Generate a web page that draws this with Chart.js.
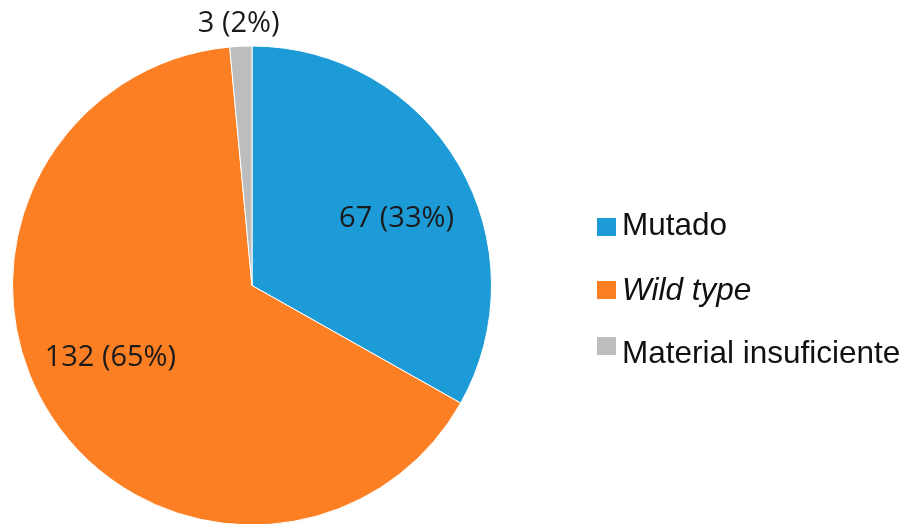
<!DOCTYPE html>
<html>
<head>
<meta charset="utf-8">
<script src="https://cdn.jsdelivr.net/npm/chart.js@4"></script>
<style>
  html, body { margin: 0; padding: 0; background: #fff; overflow: hidden; }
  #wrap { position: relative; width: 904px; height: 526px; }
</style>
</head>
<body>
<div id="wrap"><canvas id="myChart"></canvas></div>
<script>
var categories = ["Mutado", "Wild type", "Material insuficiente"];
var counts = [67, 132, 3];
var percents = [33, 65, 2];
var sliceColors = ["#1d9bd7", "#fd7f23", "#bdbdbd"];
var italicLabel = [false, true, false];

// where each value label sits, as a fraction of the radius
var labelRadius = [0.67, 0.66, 1.1];
var labelShift = [[6, 14], [-9, -14], [-1, 1]];

var sliceLabels = {
    id: "sliceLabels",
    afterDatasetsDraw: function (chart) {
        var ctx = chart.ctx;
        var arcs = chart.getDatasetMeta(0).data;
        ctx.save();
        ctx.fillStyle = "#1a1a1a";
        ctx.font = "29px 'Open Sans'";
        ctx.textAlign = "center";
        ctx.textBaseline = "middle";
        arcs.forEach(function (arc, i) {
            var mid = (arc.startAngle + arc.endAngle) / 2;
            var r = arc.outerRadius * labelRadius[i];
            var x = arc.x + Math.cos(mid) * r + labelShift[i][0];
            var y = arc.y + Math.sin(mid) * r + labelShift[i][1];
            ctx.fillText(counts[i] + " (" + percents[i] + "%)", x, y);
        });
        ctx.restore();
    }
};

var sideLegend = {
    id: "sideLegend",
    afterDraw: function (chart) {
        var ctx = chart.ctx;
        var boxTop = [218, 281, 337];
        var baseline = [235, 300, 363];
        ctx.save();
        ctx.textBaseline = "alphabetic";
        ctx.textAlign = "left";
        categories.forEach(function (name, i) {
            ctx.fillStyle = sliceColors[i];
            ctx.fillRect(597, boxTop[i], 19, 18);
            ctx.fillStyle = "#111";
            ctx.font = (italicLabel[i] ? "italic " : "") + "31.5px 'Liberation Sans'";
            ctx.fillText(name, 622, baseline[i]);
        });
        ctx.restore();
    }
};

new Chart("myChart", {
    type: "pie",
    data: {
        labels: categories,
        datasets: [{
            data: counts,
            backgroundColor: sliceColors,
            borderColor: "#ffffff",
            borderWidth: 1
        }]
    },
    options: {
        responsive: true,
        maintainAspectRatio: false,
        animation: false,
        layout: { padding: { top: 45, bottom: 0, left: 12, right: 412 } },
        plugins: {
            legend: { display: false },
            tooltip: { enabled: false }
        }
    },
    plugins: [sliceLabels, sideLegend]
});
</script>
</body>
</html>
